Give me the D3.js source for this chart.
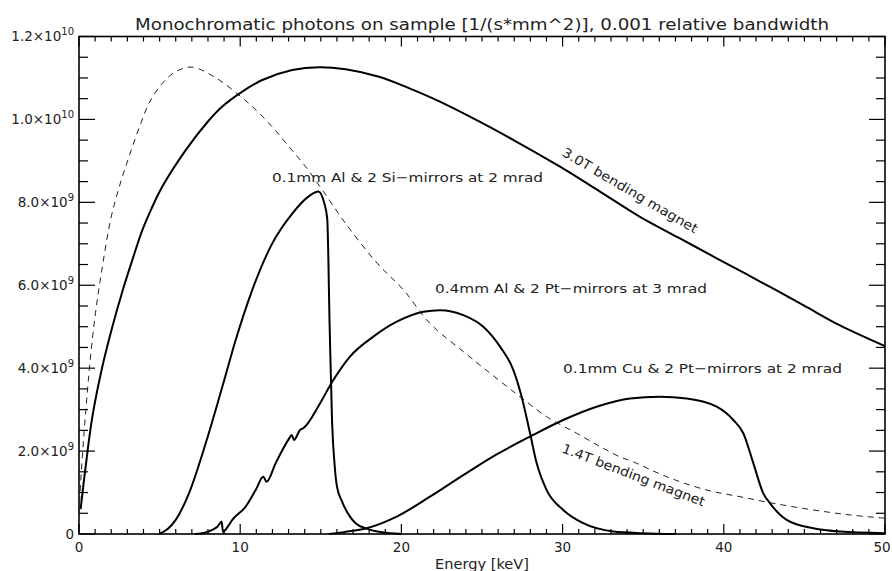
<!DOCTYPE html>
<html><head><meta charset="utf-8">
<script src="https://cdn.jsdelivr.net/npm/d3@7"></script>
<style>
html,body{margin:0;padding:0;background:#fff;}
svg text{font-family:"DejaVu Sans",sans-serif;fill:#222;}
</style></head>
<body><svg id="chart" width="892" height="571"></svg>
<script>
// ---- data (flux in units of 1e9 photons/(s*mm^2)) ----
const energy3T = [0.1,0.41,0.83,1.45,2.07,2.69,3.3,3.93,4.5,5.17,6.62,8.0,8.89,10.13,11.37,13.23,14.89,16.54,18.61,20.5,22.39,24.88,27.15,29.84,32.32,34.8,37.28,39.56,42.25,44.93,47.21,50];
const flux3T   = [0.6,1.62,2.83,4.04,5.0,5.85,6.6,7.33,7.85,8.38,9.26,9.95,10.31,10.67,10.95,11.19,11.26,11.21,11.03,10.75,10.43,9.94,9.46,8.86,8.26,7.65,7.13,6.65,6.09,5.52,5.03,4.53];

const energy14T = [0.0,0.1,0.31,0.51,0.72,1.03,1.45,1.97,2.48,3.1,3.83,4.34,5.17,6.0,7.03,8.5,9.72,10.75,11.99,13.03,14.06,15.09,16.54,18.5,20.12,21.77,23.84,25.5,27.36,29.01,30.87,32.32,33.56,34.39,36.46,38.94,41.0,43.07,45.55,47.83,50];
const flux14T   = [0.5,1.23,2.43,3.39,4.3,5.35,6.45,7.6,8.35,9.1,9.9,10.39,10.87,11.15,11.26,11.0,10.65,10.31,9.82,9.34,8.86,8.3,7.49,6.53,5.89,5.08,4.4,3.88,3.31,2.83,2.43,2.11,1.86,1.74,1.38,1.06,0.9,0.74,0.58,0.46,0.38];

const energyAlSi = [4.96,5.5,6.0,6.82,7.86,8.89,9.72,10.75,11.99,13.23,14.27,14.85,15.2,15.4,15.55,15.7,15.85,16.0,16.3,16.81,17.16,17.85,18.8,20];
const fluxAlSi   = [0,0.12,0.34,0.98,2.19,3.55,4.68,5.89,7.01,7.73,8.15,8.26,8.0,7.6,5.0,2.7,1.7,1.15,0.8,0.42,0.26,0.13,0.04,0];

const energyAlPt = [7.2,7.8,8.27,8.6,8.85,8.93,9.2,9.51,10.34,10.96,11.43,11.64,12.2,13.03,13.19,13.34,13.71,13.91,14.95,15.71,16.81,18.26,19.71,21.36,22.39,23.84,25.08,26.12,26.94,27.46,27.98,28.39,29.01,30.04,31.28,33.15,35,37];
const fluxAlPt   = [0,0.03,0.1,0.18,0.3,0.05,0.16,0.34,0.66,1.06,1.38,1.26,1.71,2.3,2.39,2.27,2.51,2.55,3.15,3.67,4.28,4.76,5.12,5.36,5.4,5.28,5.0,4.52,3.96,3.31,2.43,1.71,1.06,0.58,0.26,0.06,0.02,0];

const energyCuPt = [15.5,16.5,17.85,19.71,21.77,23.84,25.91,27.98,30.04,32.11,34.18,36.04,37.7,39.56,40.59,41.21,41.83,42.45,42.87,43.9,45.55,47.21,50];
const fluxCuPt   = [0,0.05,0.14,0.42,0.9,1.42,1.92,2.35,2.75,3.07,3.27,3.31,3.27,3.07,2.75,2.43,1.71,0.98,0.74,0.34,0.14,0.06,0.02];

const xTicks = [0,10,20,30,40,50];
const yTicks = [0,2,4,6,8,10,12];
const yTickMantissa = ["0","2.0","4.0","6.0","8.0","1.0","1.2"];
const yTickExponent = ["","9","9","9","9","10","10"];

const titleText = "Monochromatic photons on sample [1/(s*mm^2)], 0.001 relative bandwidth";
const xTitle = "Energy [keV]";
const labelAlSi = "0.1mm Al & 2 Si\u2212mirrors at 2 mrad";
const labelAlPt = "0.4mm Al & 2 Pt\u2212mirrors at 3 mrad";
const labelCuPt = "0.1mm Cu & 2 Pt\u2212mirrors at 2 mrad";
const label3T = "3.0T bending magnet";
const label14T = "1.4T bending magnet";

// ---- layout ----
const W = 892;
const svg = d3.select("#chart");
const L = 79, R = 885, T = 36.5, B = 534;
const x = d3.scaleLinear().domain([0,50]).range([L,R]);
const y = d3.scaleLinear().domain([0,12]).range([B,T]);

// ticks
const g = svg.append("g");
const xMinor = d3.range(0,51,1);
const yMinor = d3.range(0,12.01,0.5);
xMinor.forEach(v=>{
  const major = v%10===0;
  const len = major?10:5;
  g.append("line").attr("x1",x(v)).attr("x2",x(v)).attr("y1",B).attr("y2",B-len).attr("stroke","#000").attr("stroke-width",1.2);
  g.append("line").attr("x1",x(v)).attr("x2",x(v)).attr("y1",T).attr("y2",T+len).attr("stroke","#000").attr("stroke-width",1.2);
});
yMinor.forEach(v=>{
  const major = Math.abs(v/2-Math.round(v/2))<1e-6;
  const len = major?16:9;
  g.append("line").attr("x1",L).attr("x2",L+len).attr("y1",y(v)).attr("y2",y(v)).attr("stroke","#000").attr("stroke-width",1.2);
  g.append("line").attr("x1",R).attr("x2",R-len).attr("y1",y(v)).attr("y2",y(v)).attr("stroke","#000").attr("stroke-width",1.2);
});
// frame
g.append("rect").attr("x",L).attr("y",T).attr("width",R-L).attr("height",B-T)
  .attr("fill","none").attr("stroke","#000").attr("stroke-width",1.6);

// x tick labels
svg.selectAll("text.xt").data(xTicks).enter().append("text")
  .attr("class","xt").attr("x",d=>Math.min(x(d), W-10)).attr("y",552)
  .attr("text-anchor","middle").attr("font-size",13.5).text(d=>d);
svg.append("text").attr("x",(L+R)/2).attr("y",569).attr("text-anchor","middle")
  .attr("font-size",13.5).attr("textLength",94).attr("lengthAdjust","spacingAndGlyphs").text(xTitle);

// y tick labels
yTicks.forEach((v,i)=>{
  const t = svg.append("text").attr("x",74).attr("y",y(v)+4.8)
    .attr("text-anchor","end").attr("font-size",13.5);
  if (yTickExponent[i]===""){
    t.text(yTickMantissa[i]);
  } else {
    t.append("tspan").text(yTickMantissa[i]+"\u00d710");
    t.append("tspan").attr("font-size",10).attr("dy",-6).text(yTickExponent[i]);
  }
});

// title
svg.append("text").attr("x",482).attr("y",30).attr("text-anchor","middle")
  .attr("font-size",16.5).attr("textLength",694).attr("lengthAdjust","spacingAndGlyphs").text(titleText);

// curves
const lineSmooth = d3.line().x(d=>x(d[0])).y(d=>y(d[1])).curve(d3.curveCatmullRom.alpha(0.5));
const lineMono = d3.line().x(d=>x(d[0])).y(d=>y(d[1])).curve(d3.curveMonotoneX);
const zip = (a,b)=>a.map((e,i)=>[e,b[i]]);
const plot = svg.append("g");
plot.append("path").attr("d",lineSmooth(zip(energy14T,flux14T))).attr("fill","none")
  .attr("stroke","#222").attr("stroke-width",1).attr("stroke-dasharray","6,5");
plot.append("path").attr("d",lineSmooth(zip(energy3T,flux3T))).attr("fill","none")
  .attr("stroke","#000").attr("stroke-width",2);
[[energyAlSi,fluxAlSi],[energyAlPt,fluxAlPt],[energyCuPt,fluxCuPt]].forEach(([e,f])=>{
  plot.append("path").attr("d",lineMono(zip(e,f))).attr("fill","none")
    .attr("stroke","#000").attr("stroke-width",2).attr("stroke-linejoin","round");
});

// curve labels
const lab = (txt,px,py,len)=>svg.append("text").attr("x",px).attr("y",py).attr("font-size",13)
  .attr("textLength",len).attr("lengthAdjust","spacingAndGlyphs").text(txt);
lab(labelAlSi,272,182,271);
lab(labelAlPt,435,293,272);
lab(labelCuPt,563,373,279);
svg.append("text").attr("transform","translate(561,155) rotate(30.5)").attr("font-size",13)
  .attr("textLength",155).attr("lengthAdjust","spacingAndGlyphs").text(label3T);
svg.append("text").attr("transform","translate(561,452) rotate(21)").attr("font-size",13)
  .attr("textLength",152).attr("lengthAdjust","spacingAndGlyphs").text(label14T);
</script></body></html>
